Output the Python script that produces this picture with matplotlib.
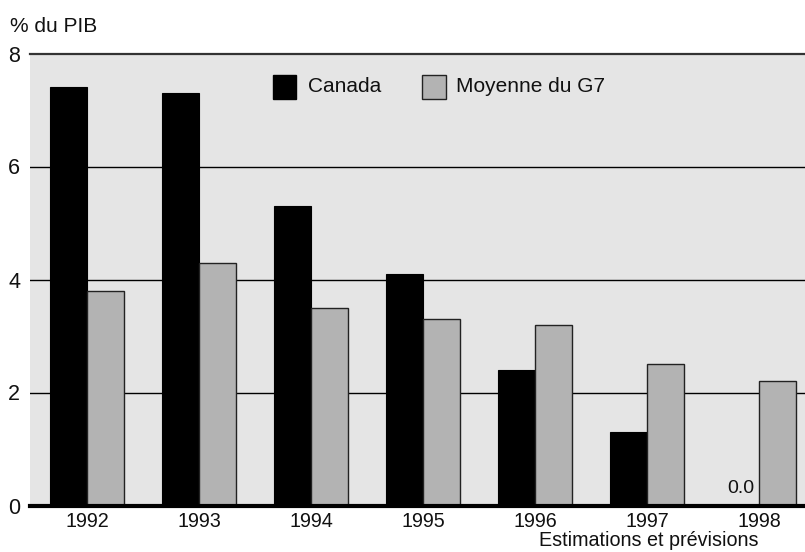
import matplotlib
matplotlib.use("Agg")
import matplotlib.pyplot as plt
from matplotlib.patches import Rectangle
import numpy as np

plt.rcParams['font.family'] = ['Liberation Sans', 'DejaVu Sans']

years = ['1992', '1993', '1994', '1995', '1996', '1997', '1998']
canada = [7.4, 7.3, 5.3, 4.1, 2.4, 1.3, 0.0]
g7_average = [3.8, 4.3, 3.5, 3.3, 3.2, 2.5, 2.2]
y_ticks = [0, 2, 4, 6, 8]

W, H = 805, 552
fig = plt.figure(figsize=(W / 100, H / 100), dpi=100)
ax = fig.add_axes([30 / W, 1 - 505.5 / H, 1 - 30 / W, (505.5 - 53.5) / H])

bg = '#e5e5e5'
grey = '#b3b3b3'
ax.set_facecolor(bg)

x = np.arange(len(years))
w = 1 / 3
ax.bar(x - w, canada, width=w, align='edge', color='black',
       edgecolor='black', linewidth=0.8, zorder=3)
ax.bar(x, g7_average, width=w, align='edge', color=grey,
       edgecolor='#222222', linewidth=1.0, zorder=3)

ax.set_xlim(-0.509, 6.41)
ax.set_ylim(0, 8)

# horizontal rules behind the bars
for v in y_ticks[1:-1]:
    ax.axhline(v, color='black', linewidth=1.0, zorder=1)
ax.axhline(8, color='#333333', linewidth=1.6, zorder=4, clip_on=False)
ax.axhline(0, color='black', linewidth=3.0, zorder=5, clip_on=False)

for s in ax.spines.values():
    s.set_visible(False)

ax.set_yticks(y_ticks)
ax.set_yticklabels([str(v) for v in y_ticks], fontsize=15.5, color='#111111')
ax.tick_params(axis='y', length=0, pad=7)
ax.set_xticks(x)
ax.set_xticklabels(years, fontsize=14.2, color='#111111')
ax.tick_params(axis='x', length=0, pad=5)

# value label for the zero bar
ax.annotate(f"{canada[-1]:.1f}", xy=(x[-1] - w / 2, canada[-1]),
            xytext=(0, 6), textcoords='offset points',
            ha='center', va='bottom', fontsize=14, color='#111111', zorder=6)

fig.text(10 / W, 1 - 32 / H, '% du PIB', fontsize=15, va='baseline', ha='left',
         color='#111111')
fig.text(648.5 / W, 1 - 546 / H, 'Estimations et prévisions', fontsize=14.2,
         va='baseline', ha='center', color='#111111')

# legend
fig.add_artist(Rectangle((273 / W, 1 - 99 / H), 23 / W, 24 / H,
                         transform=fig.transFigure, facecolor='black',
                         edgecolor='black', linewidth=1))
fig.text(308 / W, 1 - 87 / H, 'Canada', fontsize=15, va='center', ha='left',
         color='#111111')
fig.add_artist(Rectangle((422 / W, 1 - 99 / H), 24 / W, 24 / H,
                         transform=fig.transFigure, facecolor=grey,
                         edgecolor='#222222', linewidth=1))
fig.text(456 / W, 1 - 87 / H, 'Moyenne du G7', fontsize=15, va='center', ha='left',
         color='#111111')

fig.savefig('out.png', dpi=100)
